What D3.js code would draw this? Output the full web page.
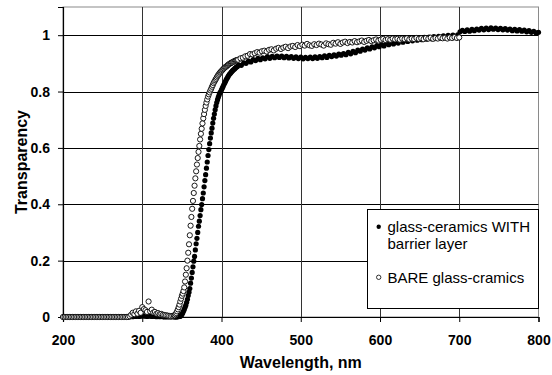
<!DOCTYPE html>
<html>
<head>
<meta charset="utf-8">
<script src="https://cdn.jsdelivr.net/npm/d3@7"></script>
<style>
  body { margin: 0; background: #fff; }
  svg { display: block; font-family: "Liberation Sans", Arial, sans-serif; }
</style>
</head>
<body>
<svg id="chart" width="552" height="375"></svg>
<script>
// Scan grid of the spectrophotometer (nm): each block has a start and a step
const lowStart = 200, lowStep = 2;          // 200–338 nm
const riseStart = 340, riseStep = 1;        // 340–420 nm (absorption edge)
const withHighStart = 422, bareHighStart = 421, highStep = 3;

// Transmittance of glass-ceramics WITH barrier layer
const withLow = [
  0,0,0,0,0,0,0,0,0,0, 0,0,0,0,0,0,0,0,0,0, 0,0,0,0,0,0,0,0,0,0, 0,0,0,0,0,0,0,0,0,0, 0,
  0.001,0,0.002,0.001,0.003,0.002,0.004,0.002,0.003,0.005,
  0.003,0.004,0.002,0.003,0.004,0.002,0.003,0.002,0.001,0.002,
  0.001,0.002,0.001,0,0.001,0,0.001,0,0.001
];
const withRise = [
  0.001,0,0.001,0,0.001,0.001,0.002,0.002,0.003,0.005,
  0.009,0.014,0.02,0.027,0.035,0.042,0.052,0.063,0.076,0.088,
  0.101,0.12,0.138,0.158,0.178,0.198,0.215,0.238,0.26,0.279,
  0.3,0.322,0.34,0.36,0.381,0.399,0.42,0.44,0.462,0.484,
  0.505,0.528,0.55,0.573,0.594,0.615,0.635,0.653,0.67,0.688,
  0.705,0.72,0.735,0.749,0.761,0.771,0.78,0.788,0.795,0.8,
  0.806,0.812,0.818,0.825,0.83,0.836,0.842,0.847,0.852,0.857,
  0.861,0.864,0.868,0.871,0.874,0.877,0.879,0.882,0.885,0.887,
  0.889
];
const withHigh = [
  0.894,0.893,0.902,0.9,0.908,0.905,0.913,0.91,0.918,0.913,
  0.92,0.916,0.924,0.918,0.925,0.92,0.926,0.921,0.926,0.92,
  0.925,0.919,0.924,0.918,0.923,0.917,0.922,0.916,0.921,0.917,
  0.922,0.917,0.923,0.918,0.924,0.92,0.927,0.921,0.928,0.924,
  0.93,0.926,0.933,0.929,0.935,0.931,0.939,0.934,0.943,0.938,
  0.947,0.943,0.951,0.947,0.955,0.951,0.959,0.955,0.963,0.959,
  0.967,0.962,0.971,0.966,0.974,0.969,0.978,0.972,0.981,0.975,
  0.983,0.978,0.986,0.98,0.988,0.982,0.99,0.984,0.992,0.986,
  0.993,0.987,0.995,0.989,0.996,0.99,0.998,0.991,0.999,0.993,
  1.0,0.995,1.001,1.012,1.017,1.013,1.019,1.014,1.021,1.016,
  1.022,1.018,1.024,1.019,1.025,1.02,1.026,1.021,1.025,1.02,
  1.024,1.019,1.023,1.018,1.022,1.016,1.021,1.015,1.02,1.014,
  1.018,1.012,1.016,1.01,1.014,1.008,1.01
];

// Transmittance of BARE glass-ceramics
const bareLow = [
  0,0,0,0,0,0,0,0,0,0, 0,0,0,0,0,0,0,0,0,0, 0,0,0,0,0,0,0,0,0,0, 0,0,0,0,0,0,0,0,0,0, 0,0,
  0.003,0.008,0.015,0.01,0.02,0.012,0.022,0.015,0.035,0.028,
  0.024,0.018,0.055,0.02,0.026,0.016,0.018,0.012,0.014,0.01,
  0.011,0.008,0.007,0.006,0.005,0.004,0.003,0.004
];
const bareRise = [
  0.004,0.006,0.01,0.014,0.02,0.027,0.035,0.044,0.055,0.065,
  0.075,0.083,0.092,0.105,0.126,0.15,0.173,0.2,0.228,0.258,
  0.29,0.324,0.355,0.384,0.412,0.44,0.466,0.492,0.517,0.541,
  0.564,0.586,0.607,0.63,0.65,0.668,0.687,0.705,0.72,0.735,
  0.749,0.761,0.772,0.782,0.79,0.797,0.804,0.81,0.817,0.823,
  0.83,0.835,0.84,0.845,0.85,0.855,0.859,0.863,0.867,0.87,
  0.873,0.876,0.879,0.882,0.885,0.887,0.889,0.891,0.894,0.896,
  0.898,0.9,0.901,0.903,0.905,0.906,0.907,0.909,0.91,0.911,
  0.912
];
const bareHigh = [
  0.913,0.918,0.92,0.925,0.927,0.933,0.932,0.936,0.94,0.938,
  0.943,0.945,0.942,0.948,0.95,0.946,0.952,0.955,0.951,0.956,
  0.959,0.954,0.96,0.962,0.958,0.965,0.961,0.966,0.963,0.969,
  0.964,0.962,0.968,0.965,0.97,0.967,0.963,0.971,0.968,0.966,
  0.973,0.97,0.975,0.969,0.974,0.977,0.972,0.976,0.974,0.979,
  0.975,0.978,0.981,0.976,0.98,0.983,0.979,0.982,0.985,0.981,
  0.984,0.987,0.983,0.986,0.984,0.988,0.985,0.987,0.984,0.988,
  0.986,0.989,0.985,0.988,0.986,0.99,0.987,0.989,0.986,0.99,
  0.988,0.991,0.987,0.99,0.988,0.992,0.989,0.991,0.988,0.992,
  0.99,0.993,0.99,0.992
];

// Axis ticks and legend entries
const xTicks = [200, 300, 400, 500, 600, 700, 800];
const yTicks = [0, 0.2, 0.4, 0.6, 0.8, 1];
const xDomain = [200, 800];
const yDomain = [0, 1.1];
const legendLabels = [["glass-ceramics WITH", "barrier layer"], ["BARE glass-cramics"]];

// Join scan blocks into {wl, t} points
function scan(blocks) {
  const pts = [];
  blocks.forEach(([start, step, vals]) => {
    vals.forEach((t, i) => pts.push({ wl: start + i * step, t }));
  });
  return pts;
}
const withData = scan([[lowStart, lowStep, withLow], [riseStart, riseStep, withRise], [withHighStart, highStep, withHigh]]);
const bareData = scan([[lowStart, lowStep, bareLow], [riseStart, riseStep, bareRise], [bareHighStart, highStep, bareHigh]]);

const svg = d3.select("#chart");
const margin = { left: 63, right: 13.5, top: 7, bottom: 58 };
const W = 552, H = 375;
const x = d3.scaleLinear().domain(xDomain).range([margin.left, W - margin.right]);
const y = d3.scaleLinear().domain(yDomain).range([H - margin.bottom, margin.top]);

// Plot frame (top and right edges in grey)
svg.append("rect")
  .attr("x", x(xDomain[0])).attr("y", y(yDomain[1]))
  .attr("width", x(xDomain[1]) - x(xDomain[0]))
  .attr("height", y(yDomain[0]) - y(yDomain[1]))
  .attr("fill", "#fff").attr("stroke", "#8a8a8a").attr("stroke-width", 1);

// Gridlines
svg.append("g").selectAll("line").data(yTicks.filter(d => d > 0)).join("line")
  .attr("x1", x(xDomain[0])).attr("x2", x(xDomain[1]))
  .attr("y1", d => Math.round(y(d)) + 0.5).attr("y2", d => Math.round(y(d)) + 0.5)
  .attr("stroke", "#000").attr("stroke-width", 1);
svg.append("g").selectAll("line").data(xTicks.filter(d => d > 200 && d < 800)).join("line")
  .attr("x1", d => Math.round(x(d)) + 0.5).attr("x2", d => Math.round(x(d)) + 0.5)
  .attr("y1", y(yDomain[0])).attr("y2", y(yDomain[1]))
  .attr("stroke", "#333").attr("stroke-width", 1);

// Axes
const xAxis = svg.append("g")
  .attr("transform", `translate(0,${y(0)})`)
  .call(d3.axisBottom(x).tickValues(xTicks).tickSize(5).tickPadding(13).tickFormat(d3.format("d")));
const yAxis = svg.append("g")
  .attr("transform", `translate(${x(200)},0)`)
  .call(d3.axisLeft(y).tickValues(yTicks).tickSize(5).tickPadding(8).tickFormat(d => d === 0 ? "0" : d === 1 ? "1" : d3.format(".1f")(d)));
[xAxis, yAxis].forEach(g => {
  g.select(".domain").attr("stroke", "#000").attr("stroke-width", 1.2);
  g.selectAll(".tick line").attr("stroke", "#000");
  g.selectAll(".tick text")
    .attr("fill", "#000")
    .style("font-family", '"Liberation Sans", Arial, sans-serif')
    .style("font-size", "14px").style("font-weight", "bold");
});

// Data markers: filled series first, open circles on top
const markerR = 2.6;
svg.append("g").selectAll("circle").data(withData).join("circle")
  .attr("cx", d => x(d.wl)).attr("cy", d => y(d.t)).attr("r", markerR)
  .attr("fill", "#000");
svg.append("g").selectAll("circle").data(bareData).join("circle")
  .attr("cx", d => x(d.wl)).attr("cy", d => y(d.t)).attr("r", markerR)
  .attr("fill", "#fff").attr("stroke", "#000").attr("stroke-width", 0.9);

// Axis titles
svg.append("text")
  .attr("x", (x(200) + x(800)) / 2).attr("y", 368)
  .attr("text-anchor", "middle")
  .style("font-size", "16px").style("font-weight", "bold")
  .text("Wavelength, nm");
svg.append("text")
  .attr("transform", `translate(26.5,${(y(0) + y(1.1)) / 2}) rotate(-90)`)
  .attr("text-anchor", "middle")
  .style("font-size", "16px").style("font-weight", "bold")
  .text("Transparency");

// Legend
const lg = svg.append("g");
lg.append("rect")
  .attr("x", 367.5).attr("y", 209.5).attr("width", 171).attr("height", 99)
  .attr("fill", "#fff").attr("stroke", "#000").attr("stroke-width", 1);
const legendRows = [
  { label: legendLabels[0], cy: 226.7, filled: true },
  { label: legendLabels[1], cy: 277.3, filled: false }
];
legendRows.forEach(row => {
  lg.append("circle")
    .attr("cx", 378.7).attr("cy", row.cy).attr("r", 2.2)
    .attr("fill", row.filled ? "#000" : "#fff")
    .attr("stroke", "#000").attr("stroke-width", row.filled ? 0 : 0.8);
  const t = lg.append("text")
    .attr("x", 387.5).attr("y", row.cy + 5.2)
    .style("font-size", "15px");
  row.label.forEach((line, i) => {
    t.append("tspan").attr("x", 387.5).attr("dy", i === 0 ? 0 : 16.7).text(line);
  });
});
</script>
</body>
</html>
